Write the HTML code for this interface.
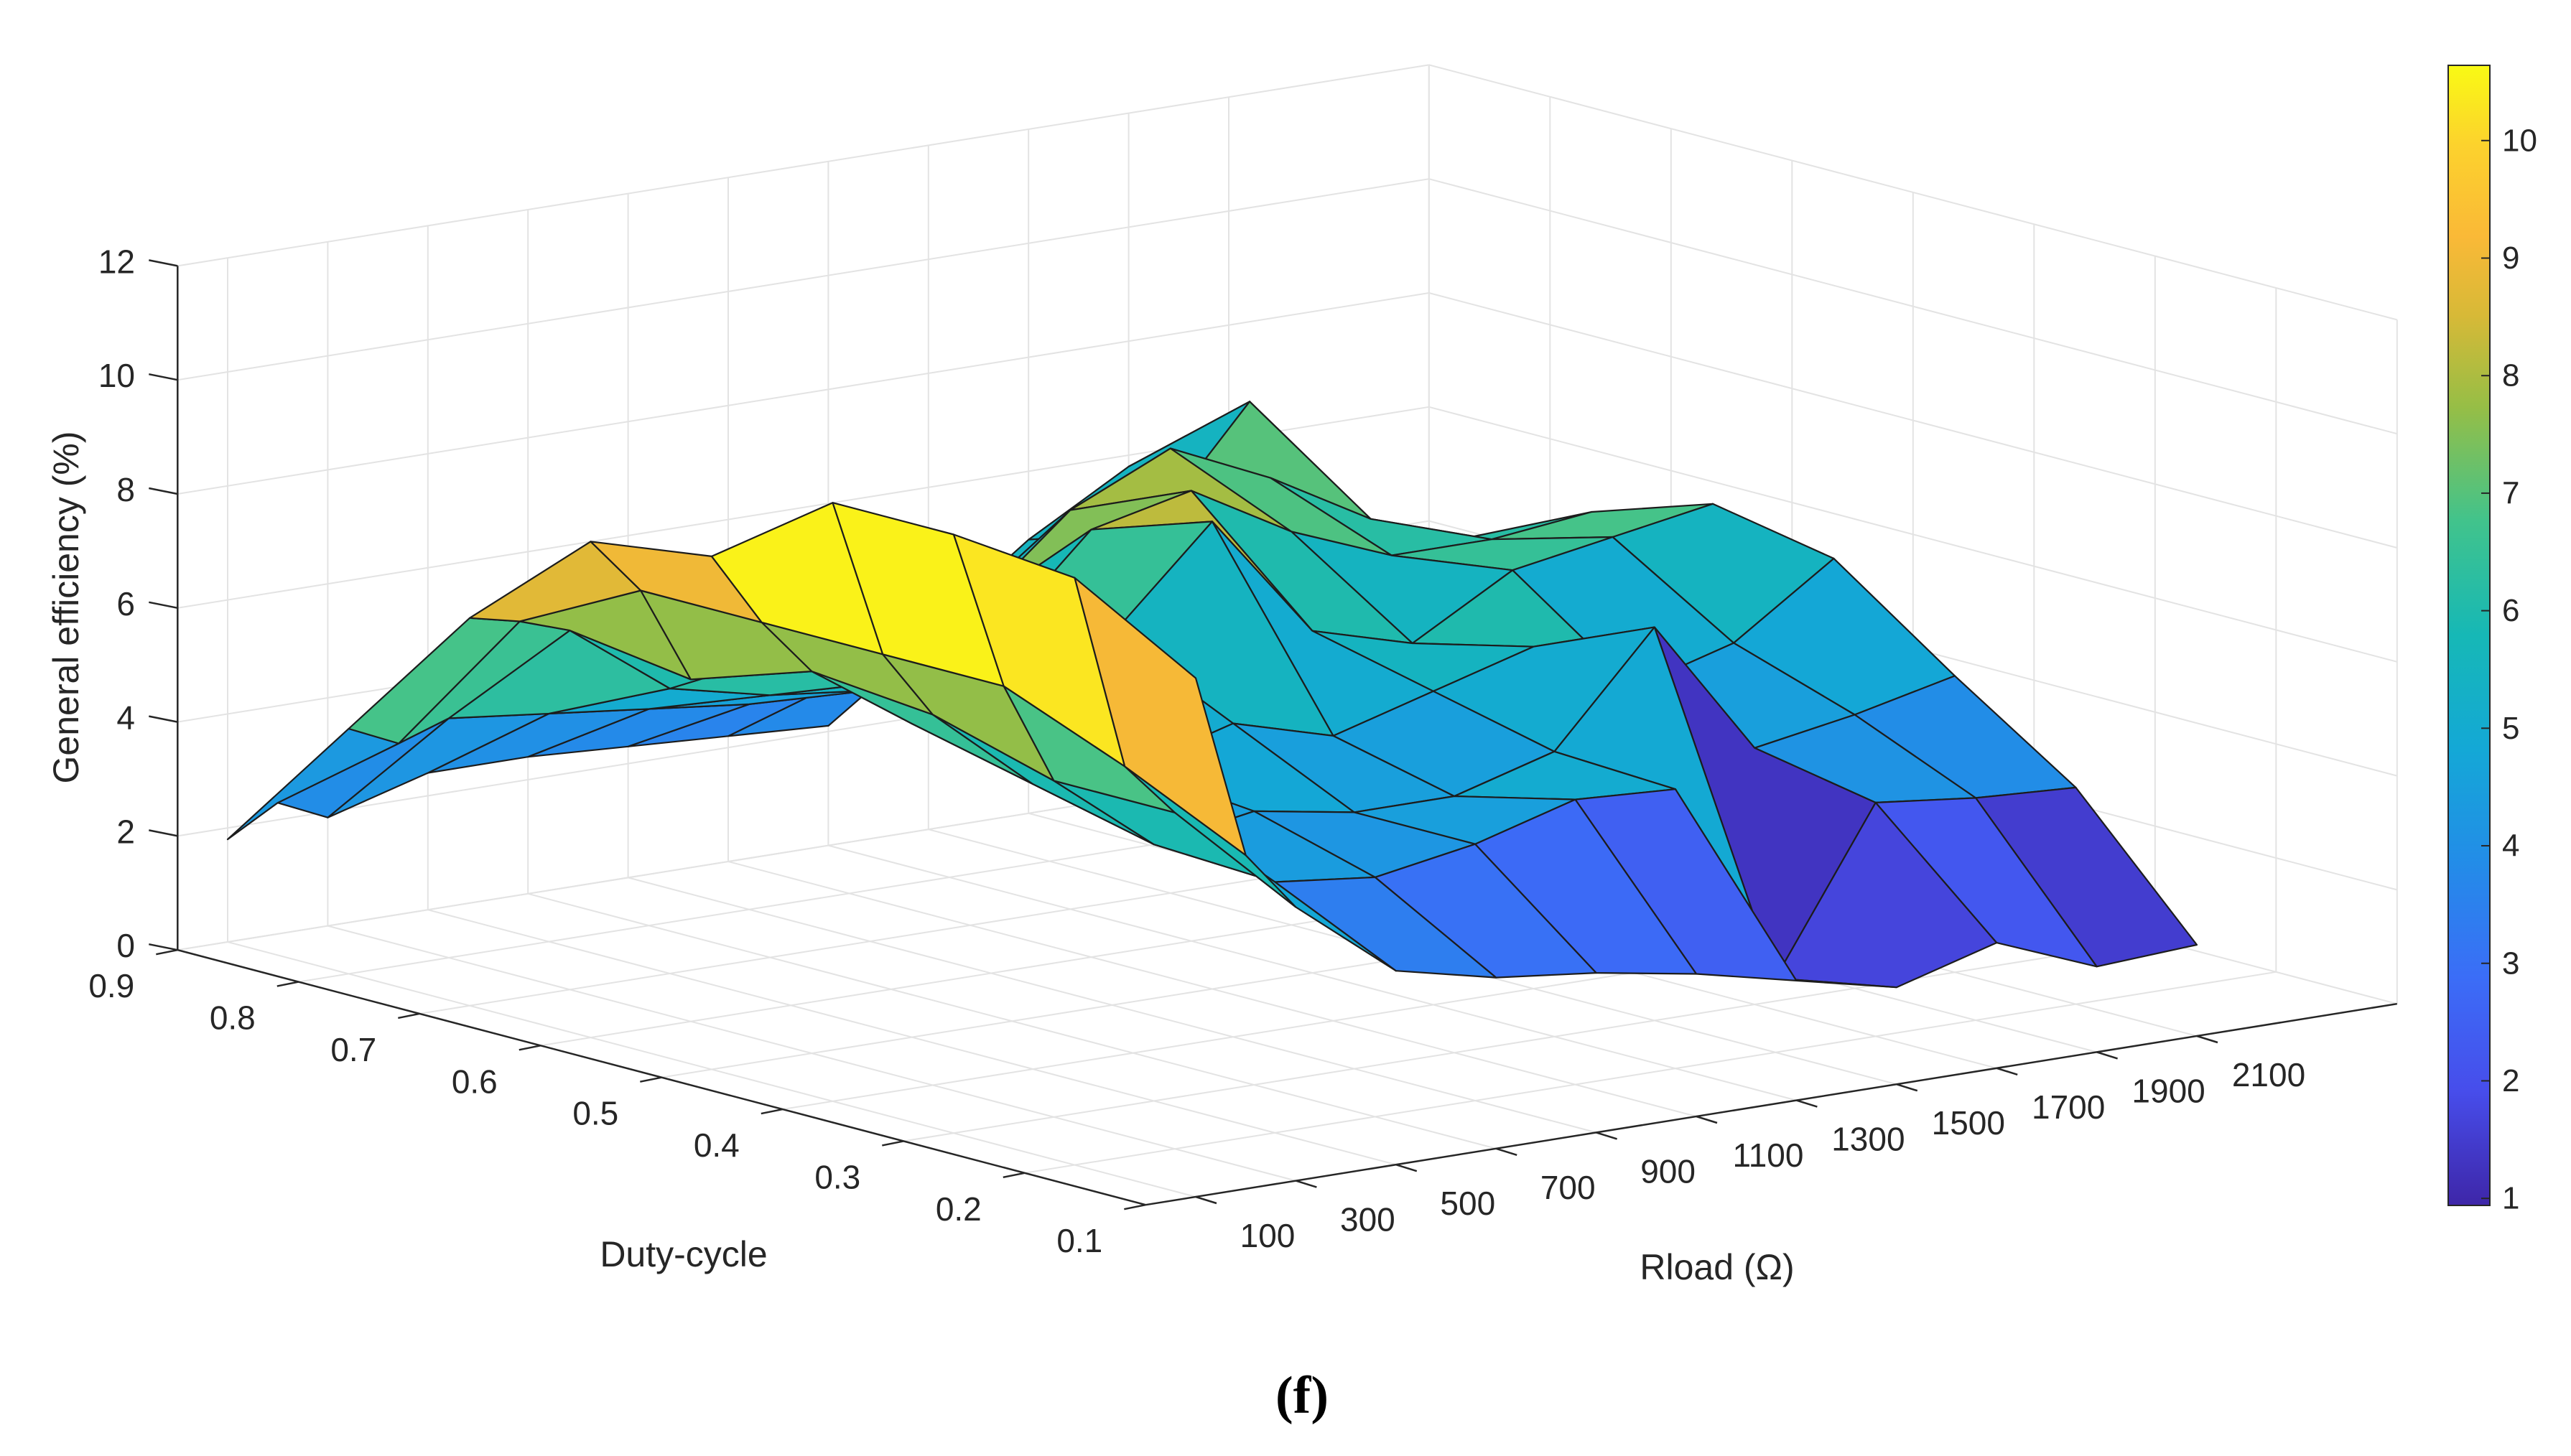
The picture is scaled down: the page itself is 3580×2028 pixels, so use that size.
<!DOCTYPE html>
<html><head><meta charset="utf-8"><style>
html,body{margin:0;padding:0;background:#fff;}
svg{display:block;font-family:"Liberation Sans",sans-serif;}
</style></head><body>
<svg id="chart" width="3580" height="2028" viewBox="0 0 3580 2028" xmlns="http://www.w3.org/2000/svg">
<rect x="0" y="0" width="3580" height="2028" fill="#fff"/>
<g id="grid"></g>
<g id="axes"></g>
<g id="surf"></g>
<g id="cbar"></g>
<text x="92" y="846" transform="rotate(-90 92 846)" text-anchor="middle" font-size="50" fill="#262626" dominant-baseline="central">General efficiency (%)</text>
<text x="952" y="1764" text-anchor="middle" font-size="50" fill="#262626">Duty-cycle</text>
<text x="2391" y="1782" text-anchor="middle" font-size="50" fill="#262626">Rload (Ω)</text>
<text x="1813" y="1968" text-anchor="middle" font-size="74" font-weight="bold" font-family="Liberation Serif, serif" fill="#000">(f)</text>
</svg>
<script>
const rloadValues = [100,200,300,500,700,900,1100,1300,1500,1700,1900,2100];
const dutyValues = [0.9,0.8,0.7,0.6,0.5,0.4,0.3,0.2,0.1];
const effD09 = [1.8,2.3,1.9,2.4,2.4,2.3,2.2,2.1,3.5,4.8,5.8,6.1];
const effD08 = [4.3,3.9,4.2,4.0,3.8,3.6,3.8,4.5,5.5,5.5,7.5,4.8];
const effD07 = [6.8,6.6,6.3,5.0,4.6,4.4,5.5,7.0,7.8,7.0,6.0,5.4];
const effD06 = [8.7,7.7,6.0,6.2,5.4,5.8,7.5,7.9,6.9,6.2,6.2,6.4];
const effD05 = [9.0,7.7,6.7,5.5,6.0,6.5,8.2,6.0,5.5,6.5,6.8,7.1];
const effD04 = [10.5,7.7,6.5,5.0,5.0,5.5,5.0,5.5,6.0,5.0,5.5,6.7];
const effD03 = [10.5,7.7,5.9,4.5,4.8,4.5,4.5,5.0,6.9,4.5,4.8,5.2];
const effD02 = [10.3,6.85,5.9,4.4,4.2,4.5,5.0,4.9,1.3,4.1,3.9,3.8];
const effD01 = [9.1,5.85,4.8,3.4,3.0,2.8,2.5,2.1,1.7,2.2,1.5,1.6];
const effRows = [effD09,effD08,effD07,effD06,effD05,effD04,effD03,effD02,effD01];
const zTicks = [0,2,4,6,8,10,12];
const dutyTicks = [0.9,0.8,0.7,0.6,0.5,0.4,0.3,0.2,0.1];
const rTicks = [100,300,500,700,900,1100,1300,1500,1700,1900,2100];
const cbarTicks = [1,2,3,4,5,6,7,8,9,10];
const cMin = 0.94, cMax = 10.64;

const NS = "http://www.w3.org/2000/svg";
const R0 = 0, R1 = 2500, D0 = 0.1, D1 = 0.9, Z1 = 12;
function px(R,d,z){ return [1665 + 0.697*(R-100) - 1685*(d-0.1), 1667 - 0.112*(R-100) - 443.75*(d-0.1) - 79.4*z]; }
function mk(tag, attrs, parent){ const e=document.createElementNS(NS,tag); for(const k in attrs) e.setAttribute(k,attrs[k]); parent.appendChild(e); return e; }
function line(a,b,stroke,w,parent,name){
  const e = mk('line',{x1:a[0],y1:a[1],x2:b[0],y2:b[1],stroke:stroke,'stroke-width':w},parent);
  
  
  return e;
}
const stops = [[0,[62,38,168]],[0.1,[71,77,235]],[0.2,[59,109,247]],[0.3,[35,140,232]],[0.4,[20,168,214]],[0.5,[22,184,182]],[0.6,[65,195,140]],[0.7,[150,190,70]],[0.78,[215,185,55]],[0.85,[250,185,55]],[0.93,[252,210,45]],[1,[249,250,20]]];
function cmap(v){
  let t=(v-cMin)/(cMax-cMin); t=Math.max(0,Math.min(1,t));
  for(let i=1;i<stops.length;i++){ if(t<=stops[i][0]){ const a=stops[i-1],b=stops[i]; const f=(t-a[0])/(b[0]-a[0]);
    const c=a[1].map((x,j)=>Math.round(x+(b[1][j]-x)*f)); return 'rgb('+c.join(',')+')'; } }
  return 'rgb(249,250,20)';
}
const grid=document.getElementById('grid'), axes=document.getElementById('axes'), surf=document.getElementById('surf'), cbar=document.getElementById('cbar');
const gc='#e3e3e3';
rTicks.forEach(r=>line(px(r,D0,0),px(r,D1,0),gc,2,grid,'floor-grid-r'));
dutyTicks.forEach(d=>line(px(R0,d,0),px(R1,d,0),gc,2,grid,'floor-grid-d'));
rTicks.forEach(r=>line(px(r,D1,0),px(r,D1,Z1),gc,2,grid,'wall-grid-r'));
zTicks.forEach(z=>line(px(R0,D1,z),px(R1,D1,z),gc,2,grid,'wall-grid-z'));
line(px(R1,D1,0),px(R1,D1,Z1),gc,2,grid,'wall-edge');
dutyTicks.forEach(d=>line(px(R1,d,0),px(R1,d,Z1),gc,2,grid,'rwall-grid-d'));
zTicks.forEach(z=>line(px(R1,D0,z),px(R1,D1,z),gc,2,grid,'rwall-grid-z'));
const ac='#262626';
line(px(R0,D1,0),px(R0,D1,Z1),ac,2.5,axes,'z-axis-line');
line(px(R0,D1,0),px(R0,D0,0),ac,2.5,axes,'duty-axis-line');
line(px(R0,D0,0),px(R1,D0,0),ac,2.5,axes,'rload-axis-line');
zTicks.forEach(z=>{ const p=px(R0,D1,z); line([p[0]-40,p[1]-8],p,ac,2.5,axes,'z-tick');
  const t=mk('text',{x:188,y:p[1]-6,'text-anchor':'end','font-size':46,fill:ac,'dominant-baseline':'central'},axes); t.textContent=z;
    });
dutyTicks.forEach(d=>{ const p=px(R0,d,0); line(p,[p[0]-30,p[1]+6],ac,2.5,axes,'duty-tick');
  const t=mk('text',{x:p[0]-92,y:p[1]+50,'text-anchor':'middle','font-size':46,fill:ac,'dominant-baseline':'central'},axes); t.textContent=d.toFixed(1);
    });
rTicks.forEach(r=>{ const p=px(r,D0,0); line(p,[p[0]+29,p[1]+9],ac,2.5,axes,'rload-tick');
  const t=mk('text',{x:p[0]+100,y:p[1]+54,'text-anchor':'middle','font-size':46,fill:ac,'dominant-baseline':'central'},axes); t.textContent=r;
    });
const faces=[];
for(let k=0;k<dutyValues.length-1;k++){
  for(let j=0;j<rloadValues.length-1;j++){
    const c=[[j,k],[j+1,k],[j+1,k+1],[j,k+1]];
    const pts=c.map(q=>px(rloadValues[q[0]],dutyValues[q[1]],effRows[q[1]][q[0]]));
    const rc=(rloadValues[j]+rloadValues[j+1])/2, dc=(dutyValues[k]+dutyValues[k+1])/2;
    const depth=-0.112*rc-443.75*dc;
    faces.push({pts, depth, col: cmap(effRows[k+1][j])});
  }
}
faces.sort((a,b)=>a.depth-b.depth);
faces.forEach(f=>{
  const p=mk('polygon',{points:f.pts.map(q=>q[0].toFixed(1)+','+q[1].toFixed(1)).join(' '),fill:f.col,stroke:'#1c1c1c','stroke-width':2.2,'stroke-linejoin':'round'},surf);
  
  
});
const cbX=3409, cbW=58, cbTop=91, cbBot=1679;
const defs=mk('defs',{},cbar);
const lg=mk('linearGradient',{id:'pg',x1:0,y1:1,x2:0,y2:0},defs);
stops.forEach(s=>mk('stop',{offset:s[0],'stop-color':'rgb('+s[1].join(',')+')'},lg));
const rect=mk('rect',{x:cbX,y:cbTop,width:cbW,height:cbBot-cbTop,fill:'url(#pg)',stroke:'#262626','stroke-width':2},cbar);


function cy(v){ return cbBot-(v-cMin)/(cMax-cMin)*(cbBot-cbTop); }
cbarTicks.forEach(v=>{ const y=cy(v); line([cbX+cbW-12,y],[cbX+cbW,y],'#262626',2,cbar,'colorbar-tick');
  const t=mk('text',{x:3484,y:y,'font-size':44,fill:'#262626','dominant-baseline':'central'},cbar); t.textContent=v;
    });
</script>
</body></html>
